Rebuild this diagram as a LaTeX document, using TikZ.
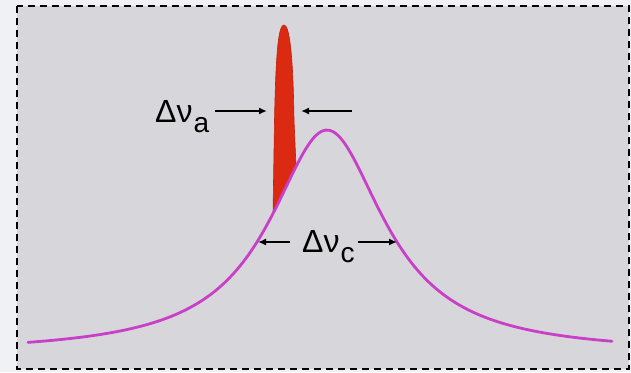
\documentclass[tikz,border=0pt]{standalone}
\usepackage{fontspec}
\setmainfont{Liberation Sans}
\usetikzlibrary{arrows.meta}
\definecolor{outer}{HTML}{EFF1F5}
\definecolor{panel}{HTML}{D7D7DB}
\definecolor{cavity}{HTML}{C940C8}
\definecolor{gain}{HTML}{DC2A12}
\tikzset{
  % dashed frame round the plot
  frame/.style={draw=black, fill=panel, line width=2.6pt, dash pattern=on 7pt off 5pt},
  % cavity line and gain spike
  curve/.style={draw=cavity, line width=2.8pt, line cap=round},
  spike/.style={fill=gain, draw=gain!85!black, line width=0.6pt},
  % width markers
  width/.style={-{Latex[length=8pt,width=7pt]}, line width=1.6pt, draw=black},
  lbl/.style={inner sep=0pt, font=\fontsize{32}{36}\selectfont},
  declare function={cav(\x)=354-224/(1+((\x-327)/70)^2);},
}
\newcommand{\sublbl}[2]{#1\kern1pt\raisebox{-10pt}{\fontsize{28}{30}\selectfont #2}}

\begin{document}
\begin{tikzpicture}[x=1pt, y=-1pt]

  \useasboundingbox[fill=outer] (0,0) rectangle (631,372);
  \path[frame] (17,6) rectangle (629,369);

  \fill[spike] (273,{cav(273)}) -- (274.5,120) .. controls (276,45) and (279,25) .. (284,25)
    .. controls (289,25) and (293,50) .. (294,120) -- (296,{cav(296)})
    -- plot[domain=296:273, samples=12] (\x,{cav(\x)}) -- cycle;

  \draw[curve] plot[domain=28:612, samples=160, smooth] (\x,{cav(\x)});

  \node[lbl, anchor=base west] (nua) at (155,122) {\sublbl{Δν}{a}};
  \node[lbl, anchor=base west] (nuc) at (302,252) {\sublbl{Δν}{c}};

  \coordinate (aTipL) at (267,111);
  \coordinate (aTipR) at (301,111);
  \coordinate (aTail) at (352,111);
  \coordinate (cTipL) at (258,242);
  \coordinate (cTipR) at (397,242);

  \draw[width] (nua.east |- aTipL) ++(6,0) -- (aTipL);
  \draw[width] (aTail) -- (aTipR);
  \draw[width] (nuc.west |- cTipL) ++(-12,0) -- (cTipL);
  \draw[width] (nuc.east |- cTipR) ++(3,0) -- (cTipR);

\end{tikzpicture}
\end{document}
